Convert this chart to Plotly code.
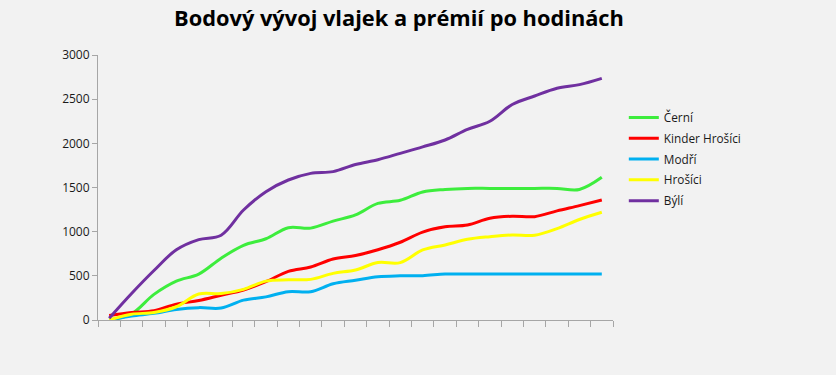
import plotly.graph_objects as go

hours = [1, 2, 3, 4, 5, 6, 7, 8, 9, 10, 11, 12, 13, 14, 15, 16, 17, 18, 19, 20, 21, 22, 23]

cerni = [0, 70, 290, 440, 520, 700, 845, 920, 1045, 1040, 1120, 1190, 1320, 1355, 1450, 1478, 1490, 1490, 1490, 1490, 1490, 1478, 1615]
kinder_hrosici = [50, 85, 105, 180, 220, 280, 340, 434, 550, 600, 690, 730, 795, 880, 995, 1055, 1075, 1151, 1175, 1170, 1235, 1295, 1358]
modri = [0, 45, 75, 120, 140, 135, 225, 262, 320, 320, 410, 450, 490, 500, 502, 520, 522, 522, 522, 522, 522, 522, 522]
hrosici = [0, 65, 85, 150, 295, 300, 347, 440, 455, 460, 528, 566, 650, 650, 793, 850, 913, 943, 963, 960, 1035, 1138, 1220]
byli = [20, 300, 560, 795, 910, 960, 1245, 1453, 1585, 1660, 1680, 1760, 1815, 1887, 1960, 2038, 2158, 2250, 2440, 2536, 2623, 2665, 2736]

series = [
    ("Černí", cerni, "#3ded3d"),
    ("Kinder Hrošíci", kinder_hrosici, "#ff0000"),
    ("Modří", modri, "#00b0f0"),
    ("Hrošíci", hrosici, "#ffff00"),
    ("Býlí", byli, "#7030a0"),
]

y_ticks = [0, 500, 1000, 1500, 2000, 2500, 3000]

fig = go.Figure()
for name, vals, col in series:
    fig.add_trace(go.Scatter(
        x=hours, y=vals, name=name, mode="lines", legendgroup=name,
        line=dict(color=col, width=3, shape="spline", smoothing=1),
        cliponaxis=False,
    ))

fig.update_layout(
    width=836, height=375,
    paper_bgcolor="#f2f2f2", plot_bgcolor="#f2f2f2",
    margin=dict(l=98, r=223, t=55, b=55),
    title=dict(
        text="<b>Bodový vývoj vlajek a prémií po hodinách</b>",
        x=399 / 836, xanchor="center", y=1 - 18 / 375, yanchor="middle",
        font=dict(family="Open Sans", size=21.8, color="#000000"),
    ),
    font=dict(family="Open Sans, Noto Sans", size=12, color="#1a1a1a"),
    showlegend=True,
    legend=dict(
        x=1.021, y=0.819, xanchor="left", yanchor="top",
        font=dict(family="Open Sans, Noto Sans", size=11.8, color="#1a1a1a"),
        bgcolor="rgba(0,0,0,0)", tracegroupgap=1.8, itemwidth=30,
    ),
    xaxis=dict(
        range=[0.5, 23.5], tick0=0.5, dtick=1, showticklabels=False,
        showgrid=False, zeroline=False, showline=True, linecolor="#a6a6a6", linewidth=1,
        ticks="outside", ticklen=6, tickcolor="#a6a6a6",
    ),
    yaxis=dict(
        range=[0, 3000], tickvals=y_ticks, showgrid=False, zeroline=False,
        showline=True, linecolor="#a6a6a6", linewidth=1,
        ticks="outside", ticklen=5, tickcolor="#a6a6a6",
        tickfont=dict(family="Open Sans, Noto Sans", size=12, color="#1a1a1a"),
    ),
)

fig.write_html("out.html", config={"displayModeBar": False},
               post_script="document.body.style.margin='0';document.body.style.padding='0';")
